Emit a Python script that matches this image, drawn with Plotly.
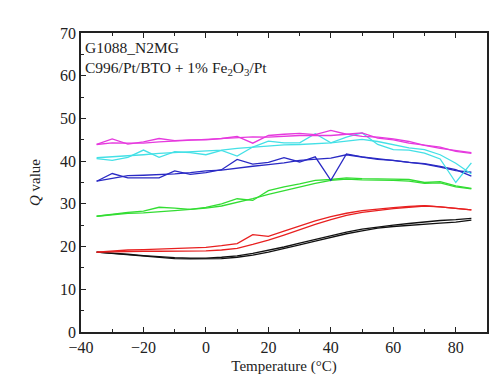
import plotly.graph_objects as go

temps = [-35, -30, -25, -20, -15, -10, -5, 0, 5, 10, 15, 20, 25, 30, 35, 40, 45, 50, 55, 60, 65, 70, 75, 80, 85]

magenta_a = [43.9, 45.2, 44.0, 44.5, 45.3, 44.8, 45.0, 45.0, 45.3, 45.8, 44.2, 46.0, 46.3, 46.5, 46.2, 47.2, 46.3, 46.6, 45.4, 45.0, 44.2, 43.8, 43.3, 42.3, 41.8]
magenta_b = [43.9, 44.3, 44.2, 44.2, 44.5, 44.7, 44.8, 45.0, 45.2, 45.5, 45.7, 45.6, 45.8, 46.0, 46.0, 46.0, 46.3, 45.8, 45.6, 45.2, 44.6, 43.7, 43.0, 42.5, 42.0]
cyan_a = [40.6, 40.2, 40.9, 42.6, 40.9, 42.2, 42.0, 41.5, 42.5, 41.2, 43.3, 44.7, 44.3, 44.3, 46.4, 44.3, 45.6, 46.6, 43.9, 42.7, 42.6, 41.9, 40.5, 35.0, 39.6]
cyan_b = [40.8, 41.0, 41.3, 41.5, 41.8, 42.0, 42.2, 42.3, 42.6, 43.0, 43.3, 43.6, 43.8, 43.9, 44.1, 44.3, 44.7, 45.1, 44.6, 43.9, 43.1, 42.7, 41.5, 39.5, 37.0]
blue_a = [35.3, 37.1, 36.1, 36.1, 36.1, 37.7, 36.9, 37.3, 38.0, 40.4, 39.3, 39.7, 40.8, 39.8, 41.0, 35.5, 41.7, 41.0, 40.6, 40.2, 39.8, 39.3, 38.6, 37.8, 37.4]
blue_b = [35.3, 35.9, 36.6, 36.7, 36.8, 37.0, 37.3, 37.7, 37.9, 38.4, 38.8, 39.2, 39.6, 40.2, 40.5, 40.7, 41.5, 40.9, 40.4, 40.2, 39.7, 39.4, 38.8, 38.0, 36.5]
green_a = [27.1, 27.6, 28.0, 28.3, 29.2, 29.0, 28.7, 29.2, 30.0, 31.2, 30.8, 33.1, 34.0, 34.7, 35.5, 35.7, 36.1, 35.9, 35.9, 35.8, 35.7, 35.0, 35.2, 34.2, 33.6]
green_b = [27.1, 27.5, 27.8, 27.9, 28.1, 28.4, 28.7, 29.0, 29.5, 30.3, 31.2, 32.2, 33.1, 33.9, 34.8, 35.5, 35.8, 35.6, 35.6, 35.5, 35.3, 34.8, 34.9, 34.0, 33.5]
red_a = [18.7, 19.0, 19.2, 19.3, 19.4, 19.5, 19.6, 19.8, 20.2, 20.7, 22.8, 22.4, 23.6, 24.8, 26.0, 27.0, 27.8, 28.4, 28.8, 29.1, 29.4, 29.6, 29.3, 29.0, 28.6]
red_b = [18.7, 18.8, 18.8, 18.9, 18.9, 18.9, 19.0, 19.0, 19.2, 19.6, 20.5, 21.5, 22.7, 24.0, 25.2, 26.3, 27.3, 28.0, 28.5, 28.9, 29.2, 29.5, 29.3, 29.0, 28.6]
black_a = [18.7, 18.5, 18.2, 17.9, 17.6, 17.4, 17.3, 17.3, 17.5, 17.8, 18.4, 19.1, 19.9, 20.8, 21.7, 22.6, 23.4, 24.1, 24.6, 25.0, 25.4, 25.8, 26.1, 26.3, 26.6]
black_b = [18.7, 18.4, 18.0, 17.7, 17.4, 17.2, 17.1, 17.1, 17.2, 17.5, 18.0, 18.7, 19.5, 20.4, 21.3, 22.2, 23.0, 23.7, 24.3, 24.7, 25.0, 25.3, 25.5, 25.7, 26.2]

series = [
    (black_a, "#111111"), (black_b, "#111111"),
    (red_a, "#e82020"), (red_b, "#e82020"),
    (green_a, "#33dd33"), (green_b, "#33dd33"),
    (blue_a, "#2a2ac4"), (blue_b, "#2a2ac4"),
    (cyan_a, "#44e0e6"), (cyan_b, "#44e0e6"),
    (magenta_a, "#e63ade"), (magenta_b, "#e63ade"),
]

fig = go.Figure()
for ys, col in series:
    fig.add_trace(go.Scatter(x=temps, y=ys, mode="lines",
                             line=dict(color=col, width=1.3), showlegend=False))

serif = "Liberation Serif, DejaVu Serif, serif"
axis_common = dict(
    showgrid=False, zeroline=False, showline=True, linecolor="#222", linewidth=1.5,
    ticks="inside", ticklen=5, tickwidth=1.2, tickcolor="#222",
    tickfont=dict(family=serif, size=16, color="#222"),
)
fig.update_xaxes(range=[-40, 90], dtick=20, tick0=-40, mirror="ticks",
                 minor=dict(dtick=10, ticks="inside", ticklen=3, tickcolor="#222"),
                 title=dict(text="Temperature (°C)", font=dict(family=serif, size=15, color="#222"), standoff=6),
                 **axis_common)
fig.update_yaxes(range=[0, 70], dtick=10, mirror=True,
                 minor=dict(dtick=5, ticks="inside", ticklen=3, tickcolor="#222"),
                 title=dict(text="<i>Q</i> value", font=dict(family=serif, size=15, color="#222"), standoff=16),
                 **axis_common)

fig.add_annotation(x=0.005, y=0.985, xref="paper", yref="paper", xanchor="left", yanchor="top",
                   text="G1088_N2MG<br>C996/Pt/BTO + 1% Fe<sub>2</sub>O<sub>3</sub>/Pt",
                   showarrow=False, align="left",
                   font=dict(family=serif, size=15.5, color="#222"))

fig.update_layout(width=500, height=392, margin=dict(l=73, r=21, t=25, b=68),
                  paper_bgcolor="white", plot_bgcolor="white")
fig.write_html("out.html")
